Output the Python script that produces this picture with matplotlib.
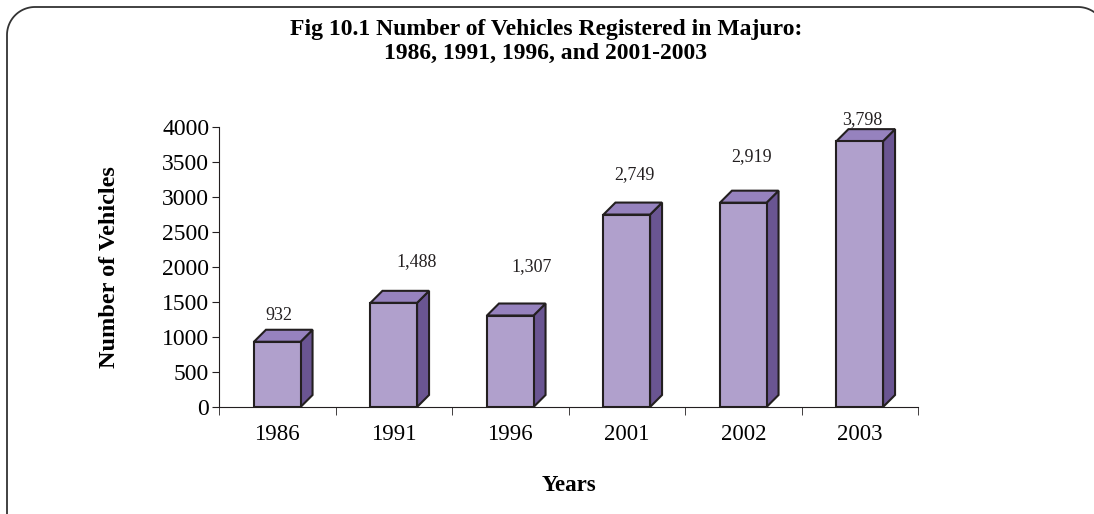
import numpy as np
import matplotlib.pyplot as plt
from matplotlib.lines import Line2D
from matplotlib.patches import Polygon
from matplotlib.transforms import Affine2D

years = ['1986', '1991', '1996', '2001', '2002', '2003']
vehicles = [932, 1488, 1307, 2749, 2919, 3798]
value_labels = ['932', '1,488', '1,307', '2,749', '2,919', '3,798']

plt.rcParams['font.family'] = ['Liberation Serif', 'DejaVu Serif']

W, H = 1094, 514
fig = plt.figure(figsize=(W / 100, H / 100), dpi=100)

# rounded frame around the chart, in pixel units (right and bottom run off the image)
px = Affine2D().scale(1 / W, 1 / H) + fig.transFigure
r = 28
left, right, top = 7, 1106, H - 7
t = np.linspace(0, np.pi / 2, 30)
fx = np.concatenate([[left], left + r - r * np.cos(t), right - r + r * np.sin(t), [right]])
fy = np.concatenate([[-40], top - r + r * np.sin(t), top - r + r * np.cos(t), [-40]])
fig.add_artist(Line2D(fx, fy, transform=px, color='#333333', linewidth=1.3))

ax = fig.add_axes([219 / W, 1 - 407 / H, (918 - 219) / W, (407 - 127) / H])
ax.set_xlim(-0.5, 5.5)
ax.set_ylim(0, 4000)

# 3-D bar look: depth in pixels converted to data units
depth_px = 12
dx = depth_px / ((918 - 219) / 6)
dy = depth_px / ((407 - 127) / 4000)
half = 0.2
front_c = '#B0A0CC'
top_c = '#9682BE'
side_c = '#6A5592'
edge_c = '#231F20'

for i, v in enumerate(vehicles):
    x0, x1 = i - half, i + half
    front = Polygon([(x0, 0), (x1, 0), (x1, v), (x0, v)], closed=True,
                    facecolor=front_c, edgecolor=edge_c, linewidth=1.5, zorder=3)
    top_face = Polygon([(x0, v), (x1, v), (x1 + dx, v + dy), (x0 + dx, v + dy)], closed=True,
                       facecolor=top_c, edgecolor=edge_c, linewidth=1.5, zorder=3)
    side = Polygon([(x1, 0), (x1 + dx, dy), (x1 + dx, v + dy), (x1, v)], closed=True,
                   facecolor=side_c, edgecolor=edge_c, linewidth=1.5, zorder=3)
    for p in (side, top_face, front):
        ax.add_patch(p)

# value labels sit at uneven heights in the original
label_x_shift = [0.01, 0.2, 0.18, 0.07, 0.07, 0.02]
label_height = [1300, 2071, 2000, 3314, 3571, 4100]
for i, txt in enumerate(value_labels):
    ax.text(i + label_x_shift[i], label_height[i], txt, ha='center', va='center',
            fontsize=13, color='#231F20', clip_on=False)

for s in ['top', 'right']:
    ax.spines[s].set_visible(False)
ax.spines['left'].set_color('#231F20')
ax.spines['bottom'].set_color('#231F20')

ax.set_yticks(range(0, 4001, 500))
ax.set_yticklabels([str(t) for t in range(0, 4001, 500)])
ax.set_xticks(range(6))
ax.set_xticklabels(years)
ax.set_xticks([k - 0.5 for k in range(7)], minor=True)
ax.tick_params(axis='x', which='major', length=0, pad=12, labelsize=16.5)
ax.tick_params(axis='x', which='minor', length=6, color='#231F20')
ax.tick_params(axis='y', length=5, pad=2, labelsize=17, color='#231F20')

ax.set_ylabel('Number of Vehicles', fontsize=17.5, fontweight='bold', labelpad=30)
ax.set_xlabel('Years', fontsize=16.5, fontweight='bold', labelpad=22)

fig.text(546 / W, 1 - 30 / H, 'Fig 10.1 Number of Vehicles Registered in Majuro:',
         ha='center', va='center', fontsize=17, fontweight='bold')
fig.text(546 / W, 1 - 53 / H, '1986, 1991, 1996, and 2001-2003',
         ha='center', va='center', fontsize=17, fontweight='bold')

fig.savefig('out.png', dpi=100)
